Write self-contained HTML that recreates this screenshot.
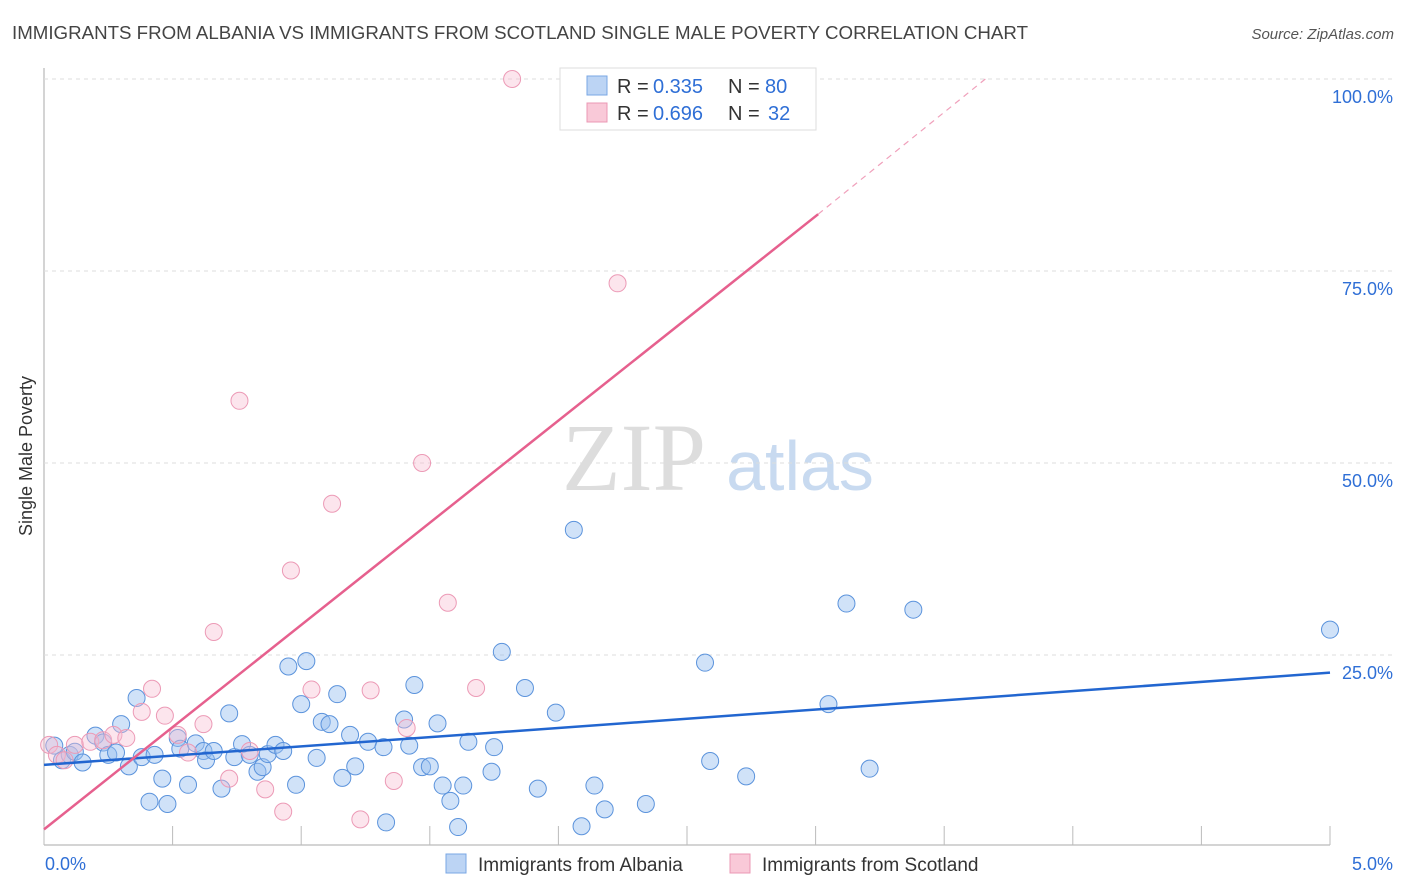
<!DOCTYPE html>
<html><head><meta charset="utf-8"><style>
body{margin:0;background:#fff;font-family:"Liberation Sans",sans-serif}
svg{display:block}
</style></head><body>
<svg id="c" width="1406" height="892">
<text x="12" y="39" font-size="18" fill="#444" textLength="1016" lengthAdjust="spacingAndGlyphs">IMMIGRANTS FROM ALBANIA VS IMMIGRANTS FROM SCOTLAND SINGLE MALE POVERTY CORRELATION CHART</text>
<text x="1394" y="39" font-size="15" fill="#555" font-style="italic" text-anchor="end">Source: ZipAtlas.com</text>
<text x="32" y="456" font-size="18" fill="#333" text-anchor="middle" transform="rotate(-90 32 456)">Single Male Poverty</text>
<text x="634" y="490" font-size="96" fill="#ddd" font-family="Liberation Serif,serif" text-anchor="middle">ZIP</text>
<text x="800" y="490" font-size="70" fill="#c8daf0" text-anchor="middle">atlas</text>
<g id="grid"></g><g id="marks"></g><g id="lines"></g>
<g>
<rect x="560" y="68" width="256" height="62" fill="#fff" stroke="#ddd"/>
<rect x="587" y="76" width="20" height="19" fill="#bcd4f4" stroke="#7aa7e4"/>
<rect x="587" y="103" width="20" height="19" fill="#f9c9d8" stroke="#eb98b4"/>
<text x="617" y="93" font-size="20" fill="#333">R =</text>
<text x="653" y="93" font-size="20" fill="#2f6fd6">0.335</text>
<text x="728" y="93" font-size="20" fill="#333">N =</text>
<text x="765" y="93" font-size="20" fill="#2f6fd6">80</text>
<text x="617" y="120" font-size="20" fill="#333">R =</text>
<text x="653" y="120" font-size="20" fill="#2f6fd6">0.696</text>
<text x="728" y="120" font-size="20" fill="#333">N =</text>
<text x="768" y="120" font-size="20" fill="#2f6fd6">32</text>
</g>
<g>
<rect x="446" y="854" width="20" height="19" fill="#bcd4f4" stroke="#7aa7e4"/>
<text x="478" y="871" font-size="19" fill="#333">Immigrants from Albania</text>
<rect x="730" y="854" width="20" height="19" fill="#f9c9d8" stroke="#eb98b4"/>
<text x="762" y="871" font-size="19" fill="#333">Immigrants from Scotland</text>
</g>
</svg>
<script>
const xTicks=[0,0.5,1,1.5,2,2.5,3,3.5,4,4.5,5];
const yTicks=[25,50,75,100];
const yTickLabels=["25.0%","50.0%","75.0%","100.0%"];
const blueX=[0.04,0.07,0.1,0.12,0.15,0.2,0.23,0.25,0.28,0.3,0.33,0.36,0.38,0.41,0.43,0.46,0.48,0.52,0.53,0.56,0.59,0.62,0.63,0.66,0.69,0.72,0.74,0.77,0.8,0.83,0.85,0.87,0.9,0.93,0.95,0.98,1,1.02,1.06,1.08,1.11,1.14,1.16,1.19,1.21,1.26,1.32,1.33,1.4,1.42,1.44,1.47,1.5,1.53,1.55,1.58,1.61,1.63,1.65,1.74,1.75,1.78,1.87,1.92,1.99,2.06,2.09,2.14,2.18,2.34,2.57,2.59,2.73,3.05,3.12,3.21,3.38,5];
const blueY=[13.2,11.3,12,12.4,11,14.5,13.6,12,12.3,16,10.5,19.4,11.7,5.9,12,8.9,5.6,14.2,12.8,8.1,13.5,12.5,11.3,12.5,7.6,17.4,11.7,13.4,12,9.8,10.4,12.1,13.3,12.5,23.5,8.1,18.6,24.2,11.6,16.3,16,19.9,9,14.6,10.5,13.7,13,3.2,16.6,13.2,21.1,10.4,10.5,16.1,8,6,2.6,8,13.7,9.8,13,25.4,20.7,7.6,17.5,41.3,2.7,8,4.9,5.6,24,11.2,9.2,18.6,31.7,10.2,30.9,28.3];
const pinkX=[0.02,0.05,0.08,0.12,0.18,0.23,0.27,0.32,0.38,0.42,0.47,0.52,0.56,0.62,0.66,0.72,0.76,0.8,0.86,0.93,0.96,1.04,1.12,1.23,1.27,1.36,1.41,1.47,1.57,1.68,1.82,2.23,2.75];
const pinkY=[13.3,12,11.3,13.3,13.7,13.9,14.6,14.2,17.6,20.6,17.1,14.6,12.3,16,28,8.9,58.1,12.5,7.5,4.6,36,20.5,44.7,3.6,20.4,8.6,15.5,50,31.8,20.7,100,73.4,100];
const blueLine=[[0,10.7],[5,22.7]];
const pinkLine=[[0,2.3],[3.01,82.4],[3.66,100]];
const NS="http://www.w3.org/2000/svg";
const X0=44,X1=1330,Y0=847,Y1=79;
const sx=v=>X0+(X1-X0)*v/5, sy=v=>Y0-(Y0-Y1)*v/100;
function mk(t,a,p){const e=document.createElementNS(NS,t);for(const k in a)e.setAttribute(k,a[k]);p.appendChild(e);return e;}
const g=document.getElementById('grid');
mk('line',{x1:X0,y1:68,x2:X0,y2:845,stroke:'#aaa'},g);
mk('line',{x1:X0,y1:845,x2:X1,y2:845,stroke:'#aaa'},g);
xTicks.forEach((t,i)=>{const l=mk('line',{x1:sx(t),y1:826,x2:sx(t),y2:845,stroke:'#bbb'},g);

});
yTicks.forEach((t,i)=>{const l=mk('line',{x1:X0,y1:sy(t),x2:1394,y2:sy(t),stroke:'#ddd','stroke-dasharray':'4,4'},g);


const tx=mk('text',{x:1393,y:sy(t)+24,'font-size':18,fill:'#2f6fd6','text-anchor':'end'},g);tx.textContent=yTickLabels[i];

});
const x0l=mk('text',{x:45,y:870,'font-size':18,fill:'#2f6fd6'},g);x0l.textContent="0.0%";


const x1l=mk('text',{x:1393,y:870,'font-size':18,fill:'#2f6fd6','text-anchor':'end'},g);x1l.textContent="5.0%";


const m=document.getElementById('marks');
blueX.forEach((v,i)=>{const c=mk('circle',{cx:sx(v),cy:sy(blueY[i]),r:8.5,fill:'rgba(150,190,240,0.45)',stroke:'#5b93dc','stroke-width':1},m);

});
pinkX.forEach((v,i)=>{const c=mk('circle',{cx:sx(v),cy:sy(pinkY[i]),r:8.5,fill:'rgba(248,190,210,0.4)',stroke:'#ec9ab6','stroke-width':1},m);

});
const L=document.getElementById('lines');
const bl=mk('line',{x1:sx(blueLine[0][0]),y1:sy(blueLine[0][1]),x2:sx(blueLine[1][0]),y2:sy(blueLine[1][1]),stroke:'#2266d0','stroke-width':2.5},L);


const pl=mk('line',{x1:sx(pinkLine[0][0]),y1:sy(pinkLine[0][1]),x2:sx(pinkLine[1][0]),y2:sy(pinkLine[1][1]),stroke:'#e6608e','stroke-width':2.5},L);


const pd=mk('line',{x1:sx(pinkLine[1][0]),y1:sy(pinkLine[1][1]),x2:sx(pinkLine[2][0]),y2:sy(pinkLine[2][1]),stroke:'#f0a0bb','stroke-width':1.2,'stroke-dasharray':'6,5'},L);


</script>
</body></html>
